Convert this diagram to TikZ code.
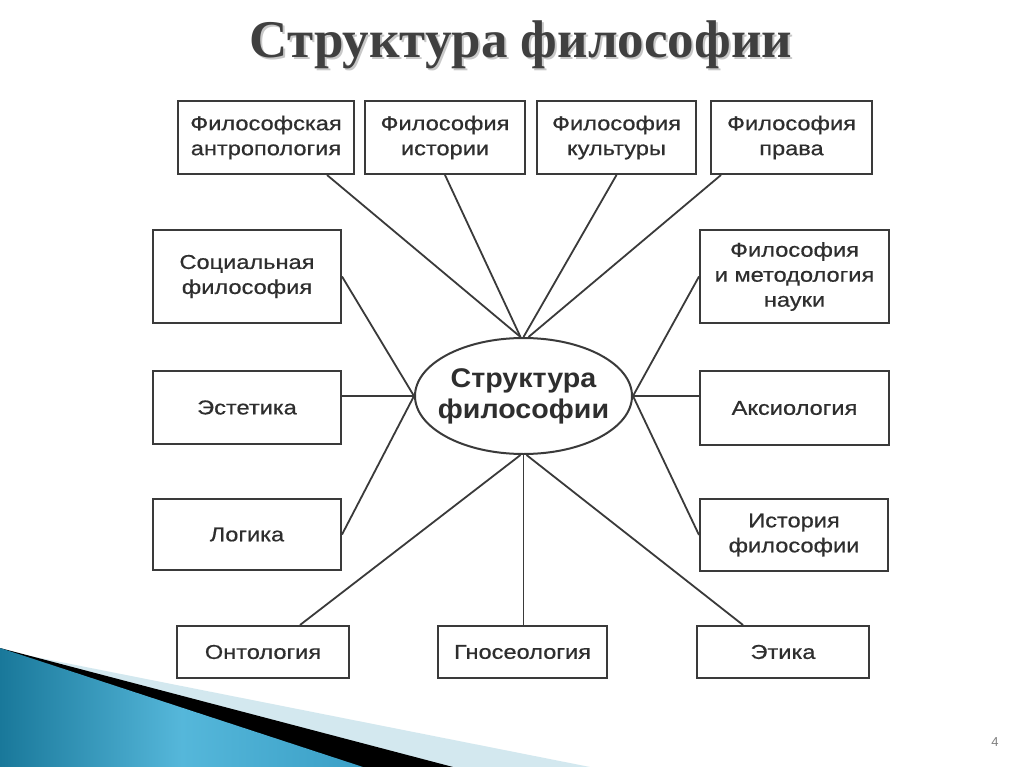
\documentclass[tikz,border=0pt]{standalone}
\usepackage{fontspec}
\newfontfamily\boxf[FakeStretch=1.18,FakeBold=0.6]{Liberation Sans}
\newfontfamily\numf{Liberation Sans}
\newfontfamily\ellf[FakeStretch=1.06]{Liberation Sans}
\newfontfamily\titlef{Liberation Serif}
\usetikzlibrary{shapes.geometric}
\definecolor{linec}{HTML}{3A3A3A}
\definecolor{textc}{HTML}{2E2E2E}
\definecolor{titlec}{HTML}{404040}
\definecolor{shadowc}{HTML}{C8C8C8}
\definecolor{palec}{HTML}{D3E8EF}
\definecolor{bluedark}{HTML}{19789A}
\definecolor{bluelight}{HTML}{55B7DA}
\definecolor{bluemid}{HTML}{3A9FC6}
\begin{document}
\begin{tikzpicture}[x=1pt,y=-1pt,
  box/.style={draw=linec, line width=2pt, rectangle, inner sep=0pt, text=textc,
    font=\boxf\fontsize{20}{25}\selectfont, align=center},
  link/.style={draw=linec, line width=1.8pt},
]
\useasboundingbox (0,0) rectangle (1024,767);
\fill[white] (0,0) rectangle (1024,767);
% corner decoration
\fill[palec] (0,650) -- (590,767) -- (0,767) -- cycle;
\fill[black] (0,648) -- (453,767) -- (0,767) -- cycle;
\shade[left color=bluedark, right color=bluemid, middle color=bluelight] (0,648) -- (363,767) -- (0,767) -- cycle;

% title
\node[font=\titlef\bfseries\fontsize{53}{60}\selectfont, text=shadowc] (titleshadow) at (523,47) {Структура философии};
\node[font=\titlef\bfseries\fontsize{53}{60}\selectfont, text=titlec] (title) at (521,45) {Структура философии};

% centre
\node[draw=linec, line width=2pt, ellipse, minimum width=217pt, minimum height=116pt, inner sep=0pt] (E) at (523.5,396) {};
\node[text=textc, font=\ellf\bfseries\fontsize{27}{31}\selectfont, align=center] (Etext) at (E.center) {Структура\\философии};

% top row
\node[box, minimum width=176pt, minimum height=73pt] (fa) at (266,137.5) {Философская\\антропология};
\node[box, minimum width=160pt, minimum height=73pt] (fi) at (445,137.5) {Философия\\истории};
\node[box, minimum width=159pt, minimum height=73pt] (fk) at (616.5,137.5) {Философия\\культуры};
\node[box, minimum width=161pt, minimum height=73pt] (fp) at (791.5,137.5) {Философия\\права};
% left column
\node[box, minimum width=188pt, minimum height=93pt] (soc) at (247,276.5) {Социальная\\философия};
\node[box, minimum width=188pt, minimum height=73pt] (est) at (247,407.5) {Эстетика};
\node[box, minimum width=188pt, minimum height=71pt] (log) at (247,534.5) {Логика};
% right column
\node[box, minimum width=189pt, minimum height=93pt] (meth) at (794.5,276.5) {Философия\\и методология\\науки};
\node[box, minimum width=189pt, minimum height=74pt] (aks) at (794.5,408) {Аксиология};
\node[box, minimum width=188pt, minimum height=72pt] (hist) at (794,535) {История\\философии};
% bottom row
\node[box, minimum width=172pt, minimum height=52pt] (ont) at (263,652) {Онтология};
\node[box, minimum width=169pt, minimum height=52pt] (gno) at (522.5,652) {Гносеология};
\node[box, minimum width=172pt, minimum height=52pt] (eth) at (783,652) {Этика};

% page number
\node[font=\numf\fontsize{13}{15}\selectfont, text=gray] (pnum) at (995,742) {4};

% connectors
\draw[link] ([xshift=-28pt]fa.south east) -- ([xshift=-3pt]E.north);
\draw[link] (fi.south) -- ([xshift=-3pt]E.north);
\draw[link] (fk.south) -- (E.north);
\draw[link] ([xshift=11pt]fp.south west) -- ([xshift=5pt]E.north);
\draw[link] (soc.east) -- (E.west);
\draw[link] (E.west) -- (E.west -| est.east);
\draw[link] (log.east) -- (E.west);
\draw[link] (meth.west) -- (E.east);
\draw[link] (E.east) -- (E.east -| aks.west);
\draw[link] (hist.west) -- (E.east);
\draw[link] ([xshift=37pt]ont.north) -- ([xshift=-3pt]E.south);
\draw[link] (E.south) -- (E.south |- gno.north);
\draw[link] ([xshift=-40pt]eth.north) -- ([xshift=3pt]E.south);
\end{tikzpicture}
\end{document}
